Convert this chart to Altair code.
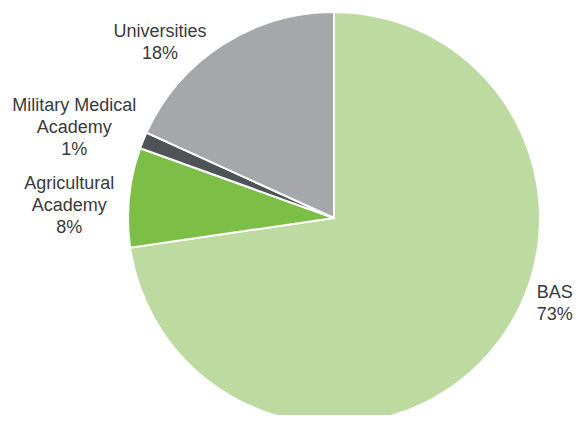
import math
import altair as alt
import pandas as pd

categories = ["BAS", "Agricultural\nAcademy", "Military Medical\nAcademy", "Universities"]
values = [72.7, 7.8, 1.3, 18.2]
pct_labels = ["73%", "8%", "1%", "18%"]
colors = ["#BDDBA0", "#7DBF46", "#505355", "#A6A7AA"]

# label placement tweaks (degrees offset from slice middle, radius in px)
angle_offset = [-19.5, -3.2, -3.0, -12.0]
label_radius = [237, 265, 275, 247]

W, H = 390, 390
LINE_H = 22

total = sum(values)
cum = 0.0
lab_x, lab_y, labels = [], [], []
for v, c, p, o, r in zip(values, categories, pct_labels, angle_offset, label_radius):
    mid = (cum + v / 2) / total * 360
    cum += v
    a = math.radians(mid + o)
    text = c + "\n" + p
    n = text.count("\n") + 1
    labels.append(text)
    lab_x.append(W / 2 + r * math.sin(a))
    lab_y.append(H / 2 - r * math.cos(a) - (n - 1) * LINE_H / 2)

df = pd.DataFrame({
    "category": categories,
    "value": values,
    "order": list(range(len(categories))),
    "label": labels,
    "lx": lab_x,
    "ly": lab_y,
})

arcs = alt.Chart(df).mark_arc(radius=206, stroke="white", strokeWidth=2).encode(
    theta=alt.Theta("value:Q", stack=True),
    order=alt.Order("order:Q"),
    color=alt.Color("category:N", scale=alt.Scale(domain=categories, range=colors), legend=None),
)

texts = alt.Chart(df).mark_text(
    font="Liberation Sans", fontSize=18, lineHeight=LINE_H, lineBreak="\n",
    color="#3A3A3A", align="center", baseline="middle",
).encode(
    x=alt.X("lx:Q", scale=None),
    y=alt.Y("ly:Q", scale=None),
    text="label:N",
)

chart = alt.layer(arcs, texts).properties(
    width=W, height=H,
    autosize=alt.AutoSizeParams(type="none"),
    padding={"left": 131, "top": 15, "right": 45, "bottom": 2},
).configure_view(stroke=None)

chart.save("out.html", embed_options={"renderer": "svg", "actions": False})
